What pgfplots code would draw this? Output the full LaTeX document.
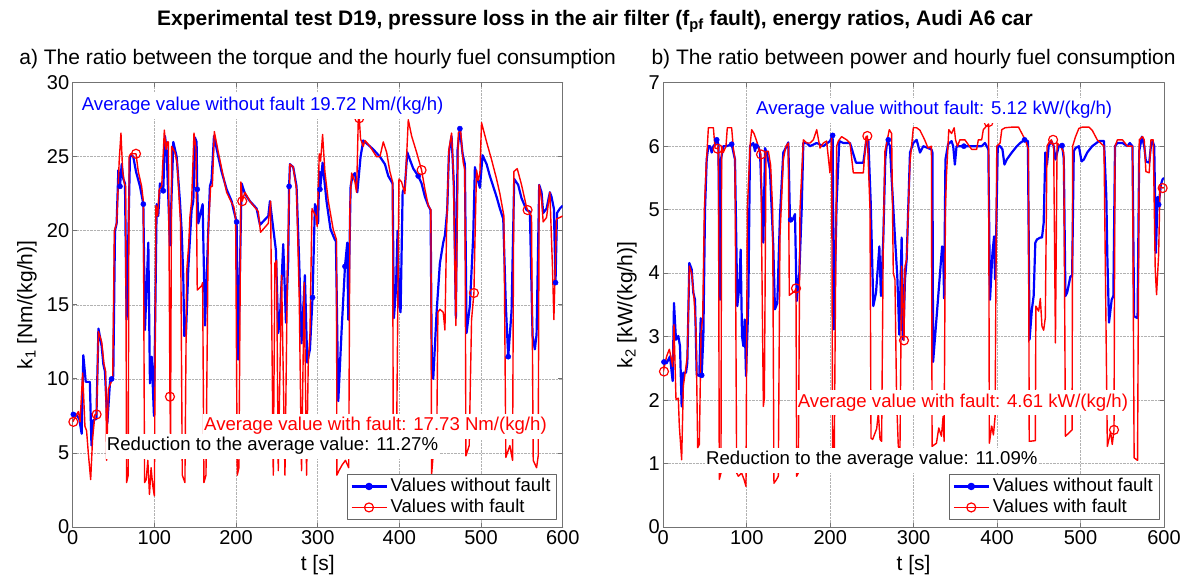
\documentclass[border=0pt]{standalone}
\usepackage{pgfplots}
\pgfplotsset{compat=1.18}
\usepackage{fontspec}
\setmainfont{Liberation Sans}
\newcommand\ann{\fontsize{18.6}{22}\selectfont}
\newcommand\tck{\fontsize{20}{24}\selectfont}
\newcommand\lab{\fontsize{21}{25}\selectfont}
\pgfplotsset{myax/.style={
  scale only axis, anchor=south west,
  xmin=0, xmax=600, xtick={0,100,...,600},
  grid=major, major grid style={densely dotted, black!30, line width=0.6pt},
  axis line style={black!55, line width=0.8pt},
  tick style={black!55, line width=0.8pt}, tick align=inside,
  ticklabel style={font=\tck},
  /pgf/number format/assume math mode=true,
  legend cell align=left,
  legend style={anchor=north east, font=\ann, draw=black!60, fill=white,
    inner xsep=3pt, inner ysep=2.5pt, row sep=1.5pt,
    nodes={inner xsep=3pt, inner ysep=1pt, text height=13.5pt, text depth=4pt}},
  legend image code/.code={\draw[mark repeat=2,mark phase=2] plot coordinates {(0pt,0pt) (17.5pt,0pt) (35pt,0pt)};},
  line join=round,
}}
\begin{document}
\begin{tikzpicture}[x=1pt,y=1pt]
\path[use as bounding box] (0,0) rectangle (1192,578);

\begin{axis}[myax, at={(72.7pt,51pt)}, width=490pt, height=444.3pt,
  ymin=0, ymax=30, ytick={0,5,...,30}, legend style={at={(0.9878,0.1193)}}]
\addplot[blue, line width=2.2pt, forget plot] coordinates {
(0,7.7)(4,7.6)(8,7.3)(11,6.3)(13,11.6)(16,9.8)(21,9.8)(23,5.5)(25,7.2)(29,7.3)(31.5,13.4)(35.5,12.2)(37.5,11.0)(39.5,10.5)(42.4,7.0)(45.7,9.8)(48,10.0)(49.7,10.2)(51.8,20.0)(53.8,20.5)(55.9,24.1)(57.9,23.0)(60,24.5)(62,23.5)(64,23.2)(66,14.0)(70.1,25.0)(72,25.1)(74.2,25.0)(77.5,24.0)(82.4,23.0)(86.5,21.8)(88.5,13.3)(92.6,19.2)(94.6,9.7)(96.7,11.5)(99.5,7.5)(102.8,21.8)(104.8,21.0)(106.8,23.2)(110.9,22.7)(113,26.4)(115,25.5)(119.1,19.0)(123.2,26.0)(127.3,25.0)(131.3,22.0)(133.4,20.0)(135.4,16.9)(136.6,12.9)(138.7,13.0)(141.5,17.4)(143.6,19.5)(145.6,21.4)(147.7,22.0)(149.7,26.3)(151.7,26.0)(152.5,22.8)(153.8,20.5)(155.8,21.0)(159.1,21.8)(162,13.6)(166,20.0)(168,23.0)(170,23.4)(173,26.4)(178.3,25.0)(182.3,24.0)(188.5,22.8)(194.6,22.0)(196.6,21.5)(200.7,20.6)(202.7,11.3)(206.8,23.2)(210.9,22.5)(217,22.0)(225.2,21.5)(229.3,20.4)(239.5,21.0)(241.5,22.0)(248.8,18.7)(251.7,13.1)(253.7,14.0)(257.8,19.1)(261.1,13.8)(263.9,18.0)(265,23.0)(266,24.5)(270,24.3)(274.1,23.0)(277.4,17.8)(280.2,12.4)(284.3,17.0)(287.2,11.1)(290.5,12.0)(293.7,15.5)(296.6,21.8)(298.6,21.5)(300.5,20.5)(301.9,24.0)(303,22.8)(306,24.6)(310.8,22.0)(315.7,20.1)(321,19.4)(322.3,19.3)(325.2,8.5)(329.3,13.3)(333.4,17.6)(336.2,19.2)(337.4,14.0)(340.3,23.0)(342.7,23.7)(345.6,23.9)(348.5,22.6)(352.5,25.0)(355.8,26.1)(361.9,25.8)(368,25.5)(376.2,25.0)(382.3,24.5)(386.4,23.7)(391.7,23.2)(393.3,14.1)(395.8,16.0)(397.8,20.0)(399.9,14.9)(401.5,14.5)(404,22.6)(406.8,23.0)(409.7,25.3)(412.9,24.8)(417,24.2)(423.1,23.7)(427.2,23.2)(431.3,22.3)(435.4,21.7)(438.2,21.4)(439.8,10.4)(441.5,10.0)(445.6,14.5)(449.6,17.8)(453.7,19.2)(455.8,19.7)(458.6,21.4)(460.7,25.3)(463.9,26.4)(466.8,23.0)(469.2,14.1)(471.3,25.5)(474.1,26.9)(477.4,25.2)(480.2,24.5)(482.3,13.1)(486.4,15.0)(490.4,19.6)(492.5,24.3)(495.3,23.6)(498.6,22.9)(501.9,25.1)(506.8,24.5)(510.8,23.7)(514.9,23.0)(519,22.3)(523.1,21.5)(527.2,20.8)(530.4,14.9)(533.3,11.5)(537.4,14.6)(540.6,23.5)(545.5,23.1)(549.6,22.2)(555.7,21.4)(559.8,21.3)(563.1,12.9)(565.9,12.0)(568,13.0)(571.2,23.1)(574.1,22.6)(576.1,21.2)(580.2,21.5)(584.3,22.6)(586.3,22.3)(589.2,21.5)(591.2,16.5)(593,21.2)(596.5,21.5)(600,21.7)};
\addplot[red, line width=1.4pt, forget plot] coordinates {
(0,7.1)(4,7.5)(7,7.8)(9,7.1)(12.2,10.4)(15,6.8)(17,6.5)(19.1,5.0)(22,3.2)(24.4,6.0)(27.3,7.6)(29.3,7.6)(31.4,13.2)(35.5,12.5)(38.3,11.0)(40.3,10.5)(41.6,4.5)(43.6,9.3)(46.5,9.7)(49,10.0)(51,20.0)(53.8,20.5)(57,24.8)(59.1,26.6)(61.2,24.0)(63.2,23.2)(64.8,23.0)(66,3.0)(68,3.5)(69,25.0)(71,25.2)(77.5,25.2)(80.3,24.0)(84.4,23.0)(86.5,22.0)(88,3.0)(90,3.2)(92,4.5)(94,2.2)(96,4.0)(98,2.8)(100,2.1)(101.9,21.7)(104,21.0)(106,22.8)(109,23.0)(112.2,26.8)(114.2,25.5)(115.8,26.0)(117.2,26.0)(119.1,8.8)(119.8,5.9)(121.2,25.7)(125.2,25.3)(128.1,24.5)(130.5,22.0)(132.1,20.5)(134.2,3.5)(137.4,3.0)(139.5,17.2)(142,19.0)(143.6,21.0)(145.6,22.0)(148.5,26.6)(151,25.5)(152.5,16.0)(158,16.3)(159.1,16.5)(160.7,3.0)(163.2,3.5)(166,20.0)(168.9,23.0)(171,23.0)(173.4,26.7)(178.3,25.3)(183.2,24.0)(188.5,22.6)(194.6,21.9)(197.4,21.6)(199.5,20.8)(201.5,3.5)(203.5,4.0)(206,23.3)(207.6,22.0)(210.9,22.6)(217,22.0)(227.2,21.3)(230,19.9)(239.5,20.5)(242.3,22.0)(245.6,3.5)(247.6,17.8)(249.6,18.0)(251.7,3.8)(255.8,17.0)(259.9,3.5)(263.1,18.0)(266,24.5)(270,24.3)(274.1,22.8)(277.4,15.4)(280.2,3.8)(283.5,16.5)(286.4,3.5)(288.4,11.0)(290.5,13.0)(293,21.5)(297.6,21.0)(299.4,20.3)(301.9,25.2)(303.5,24.7)(306,26.5)(308.8,24.0)(313,22.0)(319,20.1)(323,19.4)(323.5,3.5)(326,3.8)(330,4.2)(334,4.5)(338,4.0)(339.5,21.7)(341.5,23.9)(345.6,23.3)(347.6,22.6)(349.7,27.5)(350.9,27.6)(352.5,26.2)(355.8,25.7)(357.8,26.1)(364,25.7)(372.1,25.0)(376.2,25.0)(380.3,26.0)(384.4,25.3)(388.4,24.0)(391.7,23.3)(392.5,5.5)(396.6,5.8)(399.5,23.5)(402.7,23.3)(406.8,22.5)(410.9,27.5)(415,26.4)(421.1,25.3)(427.2,24.1)(431.3,22.8)(435.4,21.7)(438.6,21.4)(439.4,3.5)(442.3,5.5)(445.6,5.0)(447.2,14.5)(449.6,14.7)(453.7,14.5)(455.8,13.3)(457.8,20.0)(460.7,25.5)(463.9,26.6)(466,24.1)(469.2,13.6)(472.1,26.6)(474.9,26.8)(478.2,24.6)(480.2,24.1)(481.5,4.8)(485.5,5.5)(488.4,14.0)(491.3,15.8)(492.5,19.2)(494.5,24.1)(496.6,23.4)(498.6,23.9)(500.6,27.3)(506.8,26.0)(512.9,24.8)(519,23.5)(523.1,22.5)(528,21.0)(530.4,4.7)(535.3,5.5)(538.6,4.5)(540.2,24.0)(544.3,24.2)(549.6,23.1)(555.7,21.6)(557,21.4)(561.8,21.0)(563.9,4.5)(568,4.0)(570,4.8)(571.2,23.1)(574.1,22.2)(576.1,20.6)(580.2,20.9)(584.3,22.6)(587.5,17.5)(589.2,14.0)(592.4,20.8)(596.5,20.9)(600,21.0)};
\addplot[only marks, mark=*, blue, mark size=2.6pt, forget plot] coordinates {
(0.8,7.6)(47.7,10.0)(57.9,23.0)(86.5,21.8)(110.9,22.7)(152.5,22.8)(200.7,20.6)(265,23.0)(293.7,15.5)(302.7,22.8)(333.4,17.6)(423.1,23.7)(474.1,26.9)(533.3,11.5)(591.2,16.5)};
\addplot[only marks, mark=o, red, mark size=4.5pt, line width=1.2pt, forget plot] coordinates {
(0.8,7.1)(29.3,7.6)(77.5,25.2)(119.1,8.8)(207.6,22.0)(350.9,27.6)(427.2,24.1)(491.3,15.8)(557,21.4)};
\addlegendimage{blue, line width=2.2pt, mark=*, mark size=2.6pt}
\addlegendentry{Values without fault}
\addlegendimage{red, line width=1.4pt, mark=o, mark size=4.5pt, mark options={line width=1.2pt}}
\addlegendentry{Values with fault}
\end{axis}

\begin{axis}[myax, at={(663.3pt,51pt)}, width=500.7pt, height=444.3pt,
  ymin=0, ymax=7, ytick={0,1,...,7}, legend style={at={(0.990,0.1193)}}]
\addplot[blue, line width=2.2pt, forget plot] coordinates {
(0,2.60)(2,2.62)(4,2.58)(8,2.69)(11.2,2.30)(12.8,3.53)(15.2,2.95)(18,3.01)(20,2.85)(22,1.90)(24,2.43)(27.2,2.43)(28.8,2.59)(31.2,4.16)(34,4.06)(36,3.69)(38,3.58)(40,2.40)(43.2,2.38)(44.8,3.29)(46,2.39)(48,3.01)(50,5.00)(52,5.79)(54,6.00)(56,6.00)(58,5.90)(60,6.00)(62,6.03)(64,6.10)(66,6.03)(67.9,3.58)(69.1,5.79)(71.9,6.00)(75.9,6.00)(81.9,6.03)(85.9,5.79)(88.7,3.48)(91.1,3.79)(92.7,4.37)(94.3,3.01)(95.9,2.85)(97.5,3.27)(99.1,2.38)(101.9,3.53)(103.9,6.00)(107.9,6.05)(109.9,5.92)(111.1,6.00)(113.9,6.00)(115.9,5.90)(119.9,4.48)(121.9,5.97)(123.9,5.90)(127.8,5.63)(131.8,4.42)(133.8,3.43)(136.6,3.53)(139.8,4.90)(143.8,5.90)(147.8,6.00)(149.8,6.06)(151.8,4.84)(155,4.84)(157.8,4.93)(159.8,3.56)(163,4.00)(165.8,5.00)(167.8,6.05)(171.8,6.05)(175.8,6.00)(183.8,6.05)(191.8,6.00)(199.7,6.08)(202.9,6.17)(204.5,3.11)(207.7,5.11)(210.9,6.08)(215.7,6.05)(223.7,6.05)(230.9,5.74)(239.7,5.74)(242.9,6.05)(245.7,6.10)(248.5,5.13)(251.7,3.48)(254.9,3.69)(258.9,4.42)(260.8,3.64)(263.6,4.53)(266,5.79)(268.4,6.10)(271.6,6.00)(273.6,5.50)(277.6,4.56)(280.4,3.95)(282.8,3.03)(285.6,4.56)(287.6,2.95)(289.6,3.90)(291.6,4.21)(295.6,5.90)(299.6,6.05)(303.6,6.10)(307.6,5.90)(311.6,6.00)(317.2,5.97)(321.3,5.95)(322.5,5.9)(323.3,2.60)(334.1,4.42)(335.3,4.40)(336.5,3.60)(338.1,5.79)(341.3,6.03)(345.4,6.08)(347.4,6.00)(349.4,5.71)(351.4,6.00)(360.2,6.00)(373.5,6.00)(381.5,6.00)(385.5,6.05)(389.5,5.95)(391.5,3.58)(394.4,4.31)(396.4,4.58)(397.6,3.90)(398.8,4.55)(400.8,6.00)(403.6,6.00)(406.4,5.95)(408.8,5.71)(411.6,5.79)(417.6,5.90)(423.7,6.00)(427.7,6.05)(432.9,6.10)(436.9,6.08)(438.9,2.95)(441.7,3.43)(443.8,3.64)(445.8,4.48)(447.8,4.53)(451.8,4.56)(453.8,4.56)(455.8,4.79)(457.8,5.90)(459.8,5.71)(461.8,6.00)(465,6.08)(467.8,6.00)(469.9,5.79)(473.9,6.00)(477.9,6.01)(479.9,5.80)(481.9,3.64)(483.9,3.69)(487.9,3.95)(489.9,3.95)(491.9,5.92)(494,5.97)(498,6.00)(501.2,5.76)(504,5.79)(508,5.90)(514,6.00)(522.1,6.08)(528.1,6.08)(530.9,5.20)(532.1,4.27)(534.1,3.22)(537.3,3.58)(539.3,3.64)(541.3,6.00)(544.2,6.05)(550.2,6.05)(556.2,6.00)(559,6.05)(562.2,6.00)(564.2,3.32)(568.3,3.29)(570.3,5.92)(573.5,6.15)(576.3,6.00)(578.3,5.76)(582.3,5.74)(584.3,6.00)(586.3,6.08)(588.3,6.00)(590.3,4.32)(592.3,5.20)(593.6,5.08)(596.4,5.40)(598.4,5.48)(600,5.50)};
\addplot[red, line width=1.4pt, forget plot] coordinates {
(0,2.45)(4,2.69)(7.2,2.80)(8.8,2.70)(11.2,2.53)(12.8,3.19)(15.2,2.01)(18,2.03)(19.2,1.59)(22,1.06)(24,2.22)(27.2,2.53)(28.8,2.70)(31.2,4.11)(34,4.00)(36.8,3.60)(39.2,3.10)(41.2,1.25)(43.2,1.30)(45.2,3.06)(47.2,3.30)(49.2,5.00)(51.2,5.63)(54,6.29)(58,6.29)(60,6.29)(62,5.97)(65.1,5.96)(66,6.00)(67.1,0.75)(69.1,0.85)(69.9,6.00)(71.9,5.90)(75.1,6.00)(76.7,6.29)(81.9,6.29)(83.9,5.97)(85.9,5.79)(87.9,0.85)(89.9,0.80)(93.9,0.85)(96.7,0.75)(99.1,0.64)(100.7,5.00)(103.9,6.00)(105.9,6.26)(108.7,6.20)(111.9,6.08)(115.9,5.90)(117.1,5.87)(117.9,4.42)(119.9,1.90)(121.1,2.03)(123.1,5.92)(125.9,5.92)(128.6,5.70)(131,5.00)(132.6,0.69)(135.8,0.75)(137.8,0.80)(139.8,4.58)(143.8,5.79)(147,6.00)(149.8,6.05)(151,3.65)(155,3.69)(157.8,3.72)(159,3.76)(159.8,0.80)(161.8,0.85)(163.8,5.00)(167.8,6.10)(171.8,6.05)(175.8,6.05)(179.8,6.10)(183.8,6.26)(187.8,5.97)(191.8,6.05)(195.7,6.08)(199.7,5.58)(201.7,6.15)(202.9,1.22)(204.9,1.22)(207.7,6.00)(209.7,6.08)(213.7,6.15)(219.7,6.10)(223.7,6.05)(227.7,5.58)(239.7,5.58)(242.9,6.15)(244.5,6.16)(247.7,5.00)(248.9,1.40)(250.9,1.38)(253.7,1.48)(255.7,1.55)(257.7,1.80)(259.7,1.38)(261.6,1.35)(263.6,4.50)(265.6,5.92)(268.4,6.10)(270.8,6.26)(273.6,6.20)(275.6,4.00)(277.6,3.90)(279.6,2.00)(281.6,1.27)(283.6,1.22)(285.6,4.11)(288.4,2.94)(289.6,4.11)(291.6,4.21)(293.6,5.00)(295.6,5.74)(299.6,6.29)(303.6,6.29)(307.6,6.25)(313.2,6.10)(317.2,5.97)(321.3,6.00)(322.1,1.27)(327.3,1.32)(330.1,1.56)(333.3,1.43)(335.3,1.74)(336.5,1.35)(338.1,5.00)(339.3,5.53)(342.1,6.26)(345.4,6.20)(348.6,6.29)(350.2,6.10)(352.6,6.00)(355.4,6.10)(361.4,6.10)(369.5,5.95)(375.5,5.95)(377.5,6.10)(381.5,6.10)(383.5,6.26)(387.5,6.32)(389.8,6.35)(390.7,1.32)(393.6,1.59)(395.6,1.45)(397.6,1.74)(399.6,6.00)(403.6,6.05)(405.6,6.26)(409.6,6.29)(417.6,6.30)(425.7,6.30)(429.7,6.20)(433.7,6.10)(437.5,5.95)(438.5,1.35)(445.8,1.36)(446.5,3.48)(449.8,3.40)(451.8,3.60)(453.8,3.16)(455.8,3.10)(457.8,3.30)(459.8,6.00)(461.8,6.05)(465,6.10)(467.8,6.00)(469.9,2.90)(471.9,6.05)(475.9,6.00)(479.9,5.90)(481.9,1.43)(489.9,1.53)(490.5,6.00)(494,6.15)(498,6.28)(502,6.30)(510,6.30)(514,6.25)(520,6.10)(524,6.05)(528.1,6.00)(532.1,1.27)(536,1.50)(538,1.30)(540.1,1.53)(541.3,6.00)(544.2,6.10)(550.2,6.10)(556.2,6.00)(562.2,6.00)(564.2,1.09)(568.3,1.05)(570.3,6.10)(574.3,6.15)(576.3,6.10)(578.3,5.60)(582.3,5.58)(584.3,6.10)(587.1,6.10)(589.5,4.05)(591.1,3.66)(593.6,4.30)(595.2,5.37)(598.4,5.34)(600,5.35)};
\addplot[only marks, mark=*, blue, mark size=2.6pt, forget plot] coordinates {
(0.8,2.6)(46,2.39)(64,6.1)(81.9,6.03)(111.1,6.0)(152.6,4.84)(202.9,6.17)(269.6,6.1)(360.2,6.0)(432.9,6.1)(477.9,6.01)(593.6,5.08)};
\addplot[only marks, mark=o, red, mark size=4.5pt, line width=1.2pt, forget plot] coordinates {
(0.8,2.45)(65.1,5.96)(117.1,5.87)(159,3.76)(244.5,6.16)(288.4,2.94)(389.8,6.38)(467.1,6.1)(540.1,1.53)(598.4,5.34)};
\addlegendimage{blue, line width=2.2pt, mark=*, mark size=2.6pt}
\addlegendentry{Values without fault}
\addlegendimage{red, line width=1.4pt, mark=o, mark size=4.5pt, mark options={line width=1.2pt}}
\addlegendentry{Values with fault}
\end{axis}

% annotations with white background
\begin{scope}[every node/.style={anchor=base west, fill=white, inner xsep=1pt, inner ysep=4pt, font=\ann}]
\node[text=blue] at (80.7,467.3) {Average value without fault 19.72 Nm/(kg/h)};
\node[text=red] at (203,147) {Average value with fault: 17.73 Nm/(kg/h)};
\node[text=black] at (105.7,127) {Reduction to the average value: 11.27\%};
\node[text=blue] at (755,463) {Average value without fault: 5.12 kW/(kg/h)};
\node[text=red] at (796.7,170.7) {Average value with fault: 4.61 kW/(kg/h)};
\node[text=black] at (705,113) {Reduction to the average value: 11.09\%};
\end{scope}

% titles and labels
\node[anchor=base, font=\fontsize{21}{25}\selectfont\bfseries] at (595,552) {Experimental test D19, pressure loss in the air filter (f\textsubscript{pf} fault), energy ratios, Audi A6 car};
\node[anchor=base, font=\lab] at (317.7,513.5) {a) The ratio between the torque and the hourly fuel consumption};
\node[anchor=base, font=\lab] at (913.6,513.5) {b) The ratio between power and hourly fuel consumption};
\node[font=\lab] at (317.7,13) {t [s]};
\node[font=\lab] at (913.6,13) {t [s]};
\node[rotate=90, font=\lab] at (27,273) {k\textsubscript{1} [Nm/(kg/h)]};
\node[rotate=90, font=\lab] at (627,273) {k\textsubscript{2} [kW/(kg/h)]};
\end{tikzpicture}
\end{document}
